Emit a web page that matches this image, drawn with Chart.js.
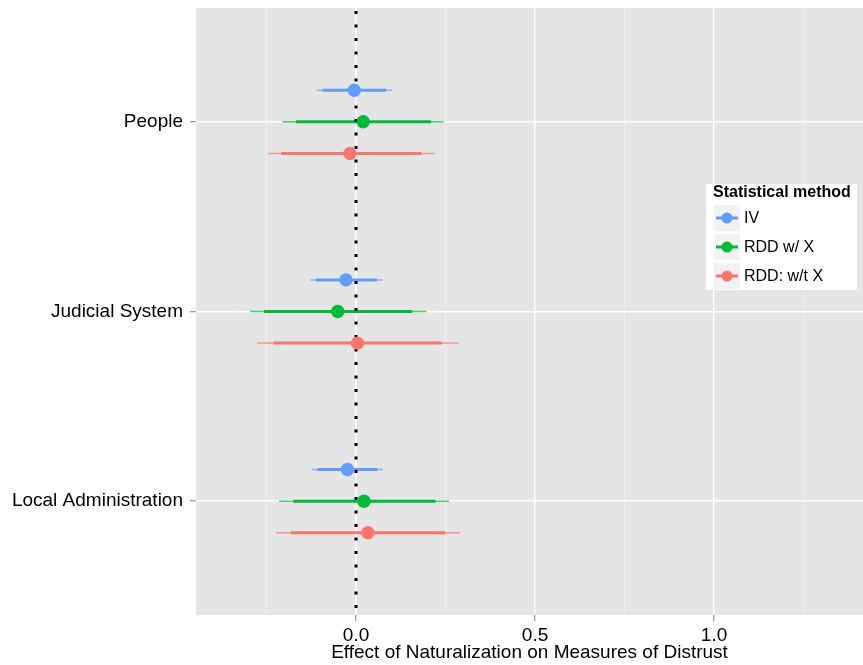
<!DOCTYPE html>
<html>
<head>
<meta charset="utf-8">
<title>Effect of Naturalization on Measures of Distrust</title>
<script src="https://cdn.jsdelivr.net/npm/chart.js@4.4.1/dist/chart.umd.min.js"></script>
<style>
  html, body { margin: 0; padding: 0; background: #fff; }
  #wrap { position: relative; width: 863px; height: 665px; }
</style>
</head>
<body>
<div id="wrap"><canvas id="distrust-chart" width="863" height="665"></canvas></div>
<script>
const categories = ["People", "Judicial System", "Local Administration"];
const methods = ["IV", "RDD w/ X", "RDD: w/t X"];
const methodColors = ["#619CFF", "#00BA38", "#F8766D"];
const methodFaded = ["rgba(97,156,255,0.7)", "rgba(0,186,56,0.7)", "rgba(248,118,109,0.7)"];

// rows = methods, columns = categories
const estimate  = [[-0.005, -0.028, -0.024], [0.020, -0.051, 0.022], [-0.017, 0.004, 0.033]];
const innerLow  = [[-0.093, -0.112, -0.108], [-0.168, -0.257, -0.175], [-0.209, -0.231, -0.182]];
const innerHigh = [[0.084, 0.058, 0.060], [0.209, 0.157, 0.222], [0.182, 0.240, 0.249]];
const outerLow  = [[-0.110, -0.128, -0.124], [-0.205, -0.296, -0.215], [-0.247, -0.277, -0.223]];
const outerHigh = [[0.101, 0.075, 0.076], [0.245, 0.197, 0.260], [0.219, 0.286, 0.291]];

const xTickValues = [0, 0.5, 1.0];
const xTickLabels = ["0.0", "0.5", "1.0"];
const xMinorValues = [-0.25, 0.25, 0.75, 1.25];
const refValue = 0;

const FONT = "'Liberation Sans', Arial, Helvetica, sans-serif";
const dodge = [-1 / 6, 0, 1 / 6];

function rowPos(m, i) {
  return i + 1 + dodge[m];
}

function intervalData(lo, hi, m) {
  const pts = [];
  categories.forEach((c, i) => {
    const y = rowPos(m, i);
    pts.push({ x: lo[m][i], y: y }, { x: hi[m][i], y: y }, { x: null, y: null });
  });
  return pts;
}

const datasets = [];
methods.forEach((name, m) => {
  datasets.push({
    label: name + " (95%)",
    data: intervalData(outerLow, outerHigh, m),
    showLine: true,
    borderColor: methodFaded[m],
    borderWidth: 1.5,
    pointRadius: 0,
    order: 3
  });
  datasets.push({
    label: name + " (90%)",
    data: intervalData(innerLow, innerHigh, m),
    showLine: true,
    borderColor: methodColors[m],
    borderWidth: 3,
    pointRadius: 0,
    order: 2
  });
  datasets.push({
    label: name,
    data: categories.map((c, i) => ({ x: estimate[m][i], y: rowPos(m, i) })),
    showLine: false,
    pointRadius: 6.7,
    pointBorderWidth: 0,
    pointBackgroundColor: methodColors[m],
    order: 0
  });
});

// dotted reference line at zero
datasets.push({
  label: "zero",
  data: [{ x: refValue, y: 0.4 }, { x: refValue, y: 3.6 }],
  showLine: true,
  borderColor: "#000",
  borderWidth: 3,
  borderDash: [3, 10.5],
  borderDashOffset: 10.5,
  pointRadius: 0,
  order: 1
});

const panelBackground = {
  id: "panelBackground",
  beforeDraw(chart) {
    const { ctx, chartArea: a } = chart;
    ctx.save();
    ctx.fillStyle = "#E5E5E5";
    ctx.fillRect(a.left, a.top, a.right - a.left, a.bottom - a.top);
    ctx.restore();
  }
};

const methodLegend = {
  id: "methodLegend",
  afterDraw(chart) {
    const { ctx, chartArea: a } = chart;
    const left = a.right - 157;
    const top = 184;
    ctx.save();
    ctx.fillStyle = "#fff";
    ctx.fillRect(left, top, 151, 106);

    ctx.fillStyle = "#000";
    ctx.font = "bold 16px " + FONT;
    ctx.textBaseline = "alphabetic";
    ctx.textAlign = "left";
    ctx.fillText("Statistical method", left + 7, top + 13);

    methods.forEach((name, m) => {
      const cy = top + 34 + m * 29;
      const kx = left + 8;
      ctx.fillStyle = "#F2F2F2";
      ctx.fillRect(kx, cy - 13, 26, 26);
      ctx.strokeStyle = methodColors[m];
      ctx.lineWidth = 3;
      ctx.beginPath();
      ctx.moveTo(kx + 2, cy);
      ctx.lineTo(kx + 24, cy);
      ctx.stroke();
      ctx.fillStyle = methodColors[m];
      ctx.beginPath();
      ctx.arc(kx + 13, cy, 5.5, 0, Math.PI * 2);
      ctx.fill();

      ctx.fillStyle = "#000";
      ctx.font = "16px " + FONT;
      ctx.textBaseline = "middle";
      ctx.fillText(name, kx + 30, cy + 1);
    });
    ctx.restore();
  }
};

function isMajor(v) {
  return xTickValues.indexOf(v) >= 0;
}

// drop the label overhang padding so the panel fills its box
function noOverhang(s) {
  s.paddingTop = 0;
  s.paddingBottom = 0;
  s.paddingLeft = 0;
  s.paddingRight = 0;
}

new Chart(document.getElementById("distrust-chart"), {
  type: "scatter",
  data: { datasets },
  plugins: [panelBackground, methodLegend],
  options: {
    responsive: false,
    animation: false,
    events: [],
    layout: { autoPadding: false, padding: { top: 8, left: 0, right: 0, bottom: 0 } },
    plugins: {
      legend: { display: false },
      tooltip: { enabled: false }
    },
    scales: {
      x: {
        type: "linear",
        min: -0.447,
        max: 1.416,
        afterBuildTicks: (s) => {
          s.ticks = xMinorValues.concat(xTickValues).sort((a, b) => a - b).map(v => ({ value: v }));
        },
        afterFit: (s) => { s.height = 50; noOverhang(s); },
        ticks: {
          autoSkip: false,
          maxRotation: 0,
          padding: 3,
          color: "#000",
          font: { family: FONT, size: 19 },
          callback: (v) => {
            const k = xTickValues.indexOf(v);
            return k < 0 ? "" : xTickLabels[k];
          }
        },
        grid: {
          color: (c) => (c.tick && isMajor(c.tick.value) ? "#FFFFFF" : "#F2F2F2"),
          lineWidth: (c) => (c.tick && isMajor(c.tick.value) ? 1.5 : 0.7),
          tickColor: (c) => (c.tick && isMajor(c.tick.value) ? "#7F7F7F" : "rgba(0,0,0,0)"),
          tickLength: 6,
          tickWidth: 1
        },
        border: { display: false },
        title: {
          display: true,
          text: "Effect of Naturalization on Measures of Distrust",
          color: "#000",
          font: { family: FONT, size: 19 },
          padding: { top: 0, bottom: 1 }
        }
      },
      y: {
        type: "linear",
        reverse: true,
        min: 0.4,
        max: 3.6,
        afterBuildTicks: (s) => {
          s.ticks = categories.map((c, i) => ({ value: i + 1 }));
        },
        afterFit: (s) => { s.width = 196; noOverhang(s); },
        ticks: {
          autoSkip: false,
          padding: 7,
          color: "#000",
          font: { family: FONT, size: 19 },
          callback: (v) => categories[v - 1]
        },
        grid: {
          color: "#FFFFFF",
          lineWidth: 1.5,
          tickColor: "#7F7F7F",
          tickLength: 6,
          tickWidth: 1
        },
        border: { display: false }
      }
    }
  }
});
</script>
</body>
</html>
